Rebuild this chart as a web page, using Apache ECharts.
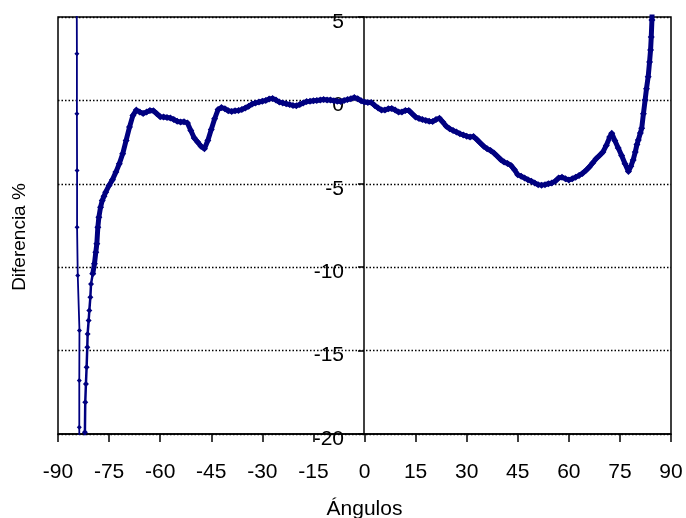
<!DOCTYPE html>
<html>
<head>
<meta charset="utf-8">
<script src="https://cdn.jsdelivr.net/npm/echarts@6/dist/echarts.min.js"></script>
<style>
html,body{margin:0;padding:0;background:#fff;}
#chart{width:686px;height:518px;}
</style>
</head>
<body>
<div id="chart"></div>
<script>
// Angles (degrees) and percentage difference
var angles = [
  -84.55, -84.5, -84.45, -84.45, -84.4, -84.4, -84.2, -83.7, -83.75, -83.75, -83.7,
  -82.3, -82.1, -82.0, -81.8, -81.6, -81.4, -81.3, -81.0, -80.8, -80.5, -80.3, -79.8, -79.3, -78.9, -78.6, -78.3, -78.0, -77.5, -77.0, -76.5, -76.0,
  -75, -74, -73, -72, -71, -70, -69, -68, -67, -66, -65, -64, -63, -62, -61, -60, -59, -58, -57, -56, -55, -54, -53, -52, -51,
  -50, -49, -48, -47, -46, -45, -44, -43, -42, -41, -40, -39, -38, -37, -36, -35, -34, -33, -32, -31, -30, -29, -28, -27, -26,
  -25, -24, -23, -22, -21, -20, -19, -18, -17, -16, -15, -14, -13, -12, -11, -10, -9, -8, -7, -6, -5, -4, -3, -2, -1,
  0, 1, 2, 3, 4, 5, 6, 7, 8, 9, 10, 11, 12, 13, 14, 15, 16, 17, 18, 19, 20, 21, 22, 23, 24,
  25, 26, 27, 28, 29, 30, 31, 32, 33, 34, 35, 36, 37, 38, 39, 40, 41, 42, 43, 44, 45, 46, 47, 48, 49,
  50, 51, 52, 53, 54, 55, 56, 57, 58, 59, 60, 61, 62, 63, 64, 65, 66, 67, 68, 69, 70, 71, 72,
  72.6, 73.5, 74.5, 75.5, 76.5, 77.5, 78.2, 78.9, 79.5, 80.0, 80.4, 81.0, 81.4, 81.9, 82.4, 82.8, 83.3, 83.7, 84.0, 84.2, 84.4, 84.6
];
var diffs = [
  12, 6.2, 2.8, -0.8, -4.2, -7.6, -10.5, -13.8, -16.8, -19.6, -23,
  -21.5, -19.9, -18.1, -17.0, -16.0, -14.8, -14.0, -13.2, -12.6, -11.8, -11.0, -10.4, -9.8, -9.1, -8.6, -7.6, -7.0, -6.4, -6.0, -5.75, -5.5,
  -5.1, -4.75, -4.3, -3.8, -3.2, -2.4, -1.6, -0.9, -0.58, -0.7, -0.78, -0.7, -0.6, -0.62, -0.8, -0.98, -1.0, -1.02, -1.05, -1.15, -1.25, -1.3, -1.28, -1.35, -1.8,
  -2.25, -2.5, -2.75, -2.9, -2.4, -1.75, -1.1, -0.55, -0.43, -0.5, -0.62, -0.66, -0.62, -0.6, -0.55, -0.45, -0.35, -0.22, -0.15, -0.1, -0.05, 0.0, 0.08, 0.12, 0.02,
  -0.1, -0.15, -0.2, -0.25, -0.3, -0.32, -0.25, -0.15, -0.07, -0.05, -0.02, 0.0, 0.02, 0.05, 0.03, 0.02, -0.02, -0.05, -0.07, 0.0, 0.05, 0.1, 0.17, 0.1, -0.02,
  -0.1, -0.12, -0.13, -0.3, -0.45, -0.58, -0.58, -0.5, -0.48, -0.58, -0.7, -0.7, -0.6, -0.6, -0.8, -1.0, -1.08, -1.15, -1.2, -1.25, -1.27, -1.15, -1.07, -1.3, -1.55,
  -1.7, -1.8, -1.9, -2.0, -2.07, -2.15, -2.2, -2.17, -2.35, -2.55, -2.75, -2.9, -3.0, -3.15, -3.35, -3.55, -3.7, -3.78, -3.9, -4.15, -4.45, -4.55, -4.65, -4.75, -4.85,
  -4.95, -5.05, -5.08, -5.05, -5.0, -4.95, -4.85, -4.65, -4.6, -4.7, -4.77, -4.7, -4.6, -4.5, -4.38, -4.2, -4.0, -3.75, -3.5, -3.3, -3.1, -2.7, -2.2,
  -1.97, -2.4, -2.85, -3.3, -3.8, -4.27, -3.95, -3.57, -3.1, -2.65, -2.37, -1.95, -1.67, -0.8, 0.02, 0.7, 1.42, 2.3, 3.02, 3.8, 4.82, 6.5
];
var xTicks = { min: -90, max: 90, step: 15 };
var yTicks = { min: -20, max: 5, step: 5 };

var points = angles.map(function (a, i) { return [a, diffs[i]]; });
// segments of the same curve drawn with different apparent thickness
var thinPart = points.slice(0, 12);
var steepPart = points.slice(11, 23);
var mainPart = points.slice(22);

var chart = echarts.init(document.getElementById('chart'), null, { renderer: 'canvas' });
var font = 'Liberation Sans, Arial, sans-serif';
var navy = '#000080';
function seg(data, lw, sz) {
  return {
    type: 'line', data: data, clip: true,
    symbol: 'diamond', symbolSize: sz, showAllSymbol: true,
    lineStyle: { color: navy, width: lw },
    itemStyle: { color: navy },
    emphasis: { disabled: true }
  };
}
chart.setOption({
  backgroundColor: '#ffffff',
  animation: false,
  grid: {
    left: 58, right: 15, top: 17, bottom: 84,
    outerBoundsMode: 'none',
    containLabel: false,
    show: true, borderColor: '#000', borderWidth: 1.5, backgroundColor: 'transparent'
  },
  xAxis: {
    type: 'value',
    min: xTicks.min, max: xTicks.max, interval: xTicks.step,
    name: 'Ángulos',
    nameLocation: 'middle',
    nameGap: 65,
    nameTextStyle: { fontFamily: font, fontSize: 21, color: '#000' },
    axisLine: { onZero: false, lineStyle: { color: '#000', width: 1.5 } },
    axisTick: { show: true, inside: false, length: 8, lineStyle: { color: '#000', width: 1.5 } },
    axisLabel: { fontFamily: font, fontSize: 21, color: '#000', margin: 28 },
    splitLine: { show: false }
  },
  yAxis: {
    type: 'value',
    min: yTicks.min, max: yTicks.max, interval: yTicks.step,
    position: 'left',
    offset: -306,
    axisLine: { onZero: false, lineStyle: { color: '#000', width: 1.5 } },
    axisTick: { show: true, inside: false, length: 6, lineStyle: { color: '#000', width: 1.5 } },
    axisLabel: { fontFamily: font, fontSize: 21, color: '#000', margin: 20, verticalAlign: 'top', lineHeight: 10 },
    splitLine: { show: true, lineStyle: { color: '#000', width: 1.3, type: [1.5, 2] } }
  },
  graphic: [{
    type: 'text',
    x: 20, y: 237,
    rotation: Math.PI / 2,
    style: {
      text: 'Diferencia %',
      fontFamily: font, fontSize: 19, fill: '#000',
      textAlign: 'center', textVerticalAlign: 'middle'
    }
  }],
  series: [
    seg(thinPart, 1.8, 5),
    seg(steepPart, 2.5, 6),
    seg(mainPart, 5, 7)
  ]
});
</script>
</body>
</html>
